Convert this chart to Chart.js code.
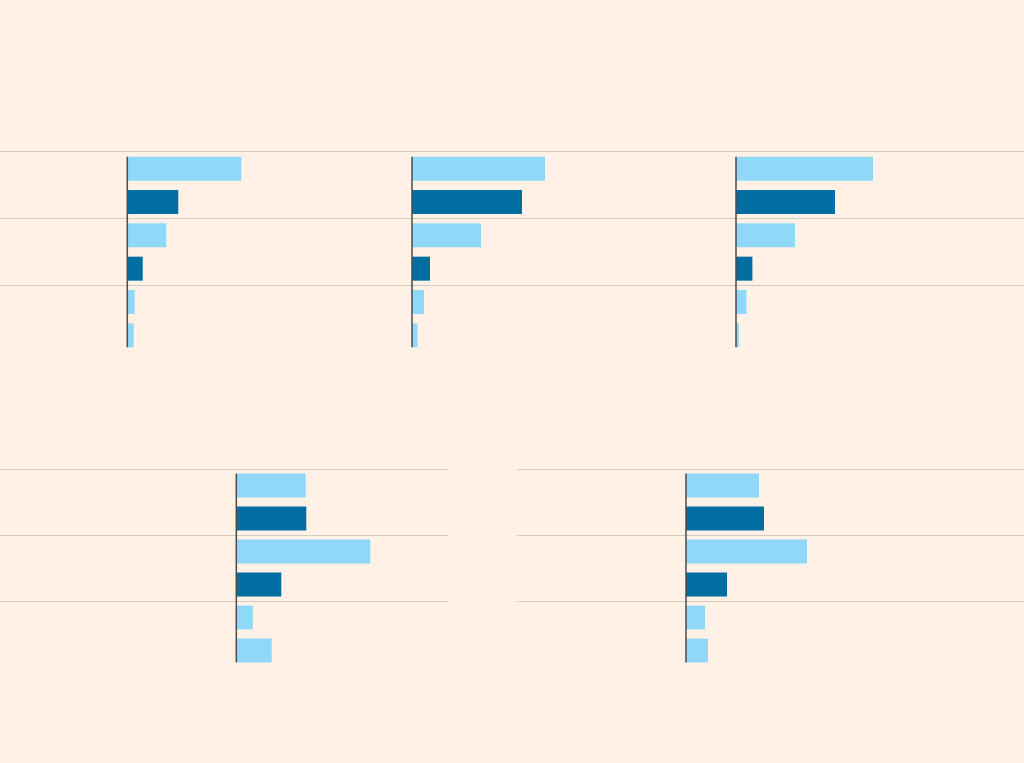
<!DOCTYPE html>
<html>
<head>
<meta charset="utf-8">
<script src="https://cdn.jsdelivr.net/npm/chart.js@4/dist/chart.umd.min.js"></script>
<style>
  html, body { margin: 0; padding: 0; background: #fff1e5; }
  body { width: 1024px; height: 763px; position: relative; overflow: hidden; }
  .panel { position: absolute; }
</style>
</head>
<body>
<div class="panel" id="w1"><canvas id="c1"></canvas></div>
<div class="panel" id="w2"><canvas id="c2"></canvas></div>
<div class="panel" id="w3"><canvas id="c3"></canvas></div>
<div class="panel" id="w4"><canvas id="c4"></canvas></div>
<div class="panel" id="w5"><canvas id="c5"></canvas></div>
<script>
// Categories (no labels are shown in the chart)
const groups = ['Group 1', 'Group 2', 'Group 3'];

// Series values, one pair of arrays per panel (first bar / second bar of each group)
const panel1First = [57, 19.5, 3.7];
const panel1Second = [25.5, 7.7, 3.2];
const panel2First = [66.5, 34.5, 6];
const panel2Second = [55, 9, 2.8];
const panel3First = [68.5, 29.5, 5.2];
const panel3Second = [49.5, 8.2, 1.5];
const panel4First = [34.7, 67, 8.3];
const panel4Second = [35, 22.5, 17.7];
const panel5First = [36.5, 60.5, 9.5];
const panel5Second = [39, 20.5, 11];

// Theme
const colors = {
  light: '#8fd8f8',
  dark: '#006ea3',
  grid: '#d7cbc1',
  axis: '#4f4a46'
};
const firstColors = [colors.light, colors.light, colors.light];
const secondColors = [colors.dark, colors.dark, colors.light];

// Panel layout: left, top, width, height, zero-line x position (page px)
const layouts = [
  { id: 'c1', wrap: 'w1', left: 0, top: 149, width: 341, height: 206, zero: 127.3 },
  { id: 'c2', wrap: 'w2', left: 341, top: 149, width: 341, height: 206, zero: 412 },
  { id: 'c3', wrap: 'w3', left: 682, top: 149, width: 342, height: 206, zero: 736 },
  { id: 'c4', wrap: 'w4', left: 0, top: 466, width: 448, height: 204, zero: 236.3 },
  { id: 'c5', wrap: 'w5', left: 517, top: 466, width: 507, height: 204, zero: 686 }
];
const pxPerUnit = 2;

// Draws the vertical zero line from the top of the first bar to the bottom of the last
const zeroLine = {
  id: 'zeroLine',
  afterDatasetsDraw(chart) {
    const first = chart.getDatasetMeta(0).data[0];
    const lastMeta = chart.getDatasetMeta(1);
    const last = lastMeta.data[lastMeta.data.length - 1];
    if (!first || !last) return;
    const x = chart.scales.x.getPixelForValue(0);
    const ctx = chart.ctx;
    ctx.save();
    ctx.strokeStyle = colors.axis;
    ctx.lineWidth = 1.5;
    ctx.beginPath();
    ctx.moveTo(x, first.y - first.height / 2);
    ctx.lineTo(x, last.y + last.height / 2);
    ctx.stroke();
    ctx.restore();
  }
};

function buildPanel(layout, firstValues, secondValues) {
  const wrap = document.getElementById(layout.wrap);
  wrap.style.left = layout.left + 'px';
  wrap.style.top = layout.top + 'px';
  wrap.style.width = layout.width + 'px';
  wrap.style.height = layout.height + 'px';

  const xMin = -(layout.zero - layout.left) / pxPerUnit;
  const xMax = (layout.left + layout.width - layout.zero) / pxPerUnit;

  return new Chart(document.getElementById(layout.id), {
    type: 'bar',
    data: {
      labels: groups,
      datasets: [
        {
          data: firstValues,
          backgroundColor: firstColors,
          borderWidth: 0,
          categoryPercentage: 1,
          barPercentage: 0.72
        },
        {
          data: secondValues,
          backgroundColor: secondColors,
          borderWidth: 0,
          categoryPercentage: 1,
          barPercentage: 0.72
        }
      ]
    },
    options: {
      indexAxis: 'y',
      responsive: true,
      maintainAspectRatio: false,
      animation: false,
      layout: { padding: { top: 3, bottom: 3, left: 0, right: 0 } },
      plugins: {
        legend: { display: false },
        tooltip: { enabled: false }
      },
      scales: {
        x: {
          type: 'linear',
          min: xMin,
          max: xMax,
          display: false
        },
        y: {
          display: true,
          offset: true,
          ticks: { display: false },
          border: { display: false },
          grid: {
            offset: true,
            drawTicks: false,
            lineWidth: 1,
            // hide the closing line below the last group
            color: (ctx) => ctx.type === 'tick' ? colors.grid : 'rgba(0,0,0,0)'
          }
        }
      }
    },
    plugins: [zeroLine]
  });
}

buildPanel(layouts[0], panel1First, panel1Second);
buildPanel(layouts[1], panel2First, panel2Second);
buildPanel(layouts[2], panel3First, panel3Second);
buildPanel(layouts[3], panel4First, panel4Second);
buildPanel(layouts[4], panel5First, panel5Second);
</script>
</body>
</html>
